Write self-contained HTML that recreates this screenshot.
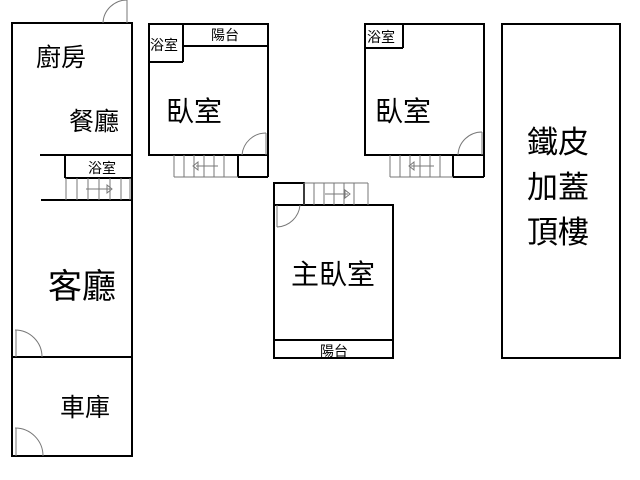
<!DOCTYPE html>
<html><head><meta charset="utf-8"><style>
html,body{margin:0;padding:0;background:#fff;}
svg{display:block;}
text{font-family:"Liberation Sans","Noto Sans CJK TC",sans-serif;fill:#000;}
</style></head><body>
<svg width="640" height="480" viewBox="0 0 640 480" xmlns="http://www.w3.org/2000/svg">
<g fill="none" stroke="#000" stroke-width="2">
  <!-- left building -->
  <rect x="12" y="23" width="120" height="433"/>
  <line x1="12" y1="357" x2="132" y2="357"/>
  <line x1="40" y1="155" x2="132" y2="155"/>
  <line x1="65" y1="155" x2="65" y2="178"/>
  <line x1="65" y1="178" x2="132" y2="178"/>
  <line x1="41" y1="200" x2="132" y2="200"/>
  <!-- bedroom 1 -->
  <rect x="149" y="24" width="119" height="131"/>
  <line x1="183" y1="24" x2="183" y2="62"/>
  <line x1="149" y1="62" x2="183" y2="62"/>
  <line x1="183" y1="46" x2="268" y2="46"/>
  <line x1="238" y1="155" x2="238" y2="177"/>
  <line x1="238" y1="177" x2="268" y2="177"/>
  <line x1="268" y1="155" x2="268" y2="177"/>
  <!-- bedroom 2 -->
  <rect x="365" y="24" width="119" height="131"/>
  <line x1="403" y1="24" x2="403" y2="48"/>
  <line x1="365" y1="48" x2="403" y2="48"/>
  <line x1="453" y1="155" x2="453" y2="177"/>
  <line x1="453" y1="177" x2="484" y2="177"/>
  <line x1="484" y1="155" x2="484" y2="177"/>
  <!-- master -->
  <rect x="274" y="205" width="119" height="153"/>
  <rect x="274" y="183" width="30" height="22"/>
  <line x1="274" y1="340" x2="393" y2="340"/>
  <!-- right -->
  <rect x="502" y="24" width="118" height="334"/>
</g>
<g fill="none" stroke="#777" stroke-width="1">
  <!-- doors -->
  <path d="M103 23 A24 24 0 0 1 127 0"/><line x1="127" y1="0" x2="127" y2="23"/>
  <path d="M15 330 A27 27 0 0 1 42 357"/><line x1="16" y1="330" x2="16" y2="357"/>
  <path d="M15 428 A28 28 0 0 1 43 456"/><line x1="16" y1="428" x2="16" y2="456"/>
  <path d="M242 155 A24 24 0 0 1 266 133"/><line x1="266" y1="133" x2="266" y2="155"/>
  <path d="M458 155 A24 24 0 0 1 482 132"/><line x1="482" y1="132" x2="482" y2="155"/>
  <path d="M277 227 A24 24 0 0 0 300 205"/><line x1="277" y1="205" x2="277" y2="227"/>
  <!-- stairs left -->
  <path d="M66 178V200M77 178V200M88 178V200M99 178V200M110 178V200M121 178V200M130 178V200"/>
  <path d="M86 189H110"/><path d="M107 185L112 189L107 193Z"/>
  <!-- stairs b1 -->
  <path d="M174 155V177M184 155V177M194 155V177M204 155V177M214 155V177M224 155V177M174 177H238"/>
  <path d="M196 166H218"/><path d="M198 162L193 166L198 170Z"/>
  <!-- stairs b2 -->
  <path d="M390 155V177M400 155V177M410 155V177M420 155V177M430 155V177M440 155V177M390 177H453"/>
  <path d="M411 166H434"/><path d="M414 162L409 166L414 170Z"/>
  <!-- stairs master -->
  <path d="M304 183V205M314 183V205M324 183V205M334 183V205M344 183V205M354 183V205M368 183V205M304 183H368"/>
  <path d="M325 194H348"/><path d="M345 190L350 194L345 198Z"/>
</g>
<g>
  <text x="36" y="66" font-size="25">廚房</text>
  <text x="69" y="130" font-size="25">餐廳</text>
  <text x="88" y="173" font-size="14">浴室</text>
  <text x="48" y="298" font-size="34">客廳</text>
  <text x="60" y="416" font-size="25">車庫</text>
  <text x="150" y="50" font-size="14">浴室</text>
  <text x="211" y="40" font-size="14">陽台</text>
  <text x="166" y="121" font-size="28">臥室</text>
  <text x="367" y="42" font-size="14">浴室</text>
  <text x="375" y="121" font-size="28">臥室</text>
  <text x="291" y="284" font-size="28">主臥室</text>
  <text x="320" y="356" font-size="14">陽台</text>
  <text x="527" y="153" font-size="31">鐵皮</text>
  <text x="527" y="198" font-size="31">加蓋</text>
  <text x="527" y="243" font-size="31">頂樓</text>
</g>
</svg>
</body></html>
